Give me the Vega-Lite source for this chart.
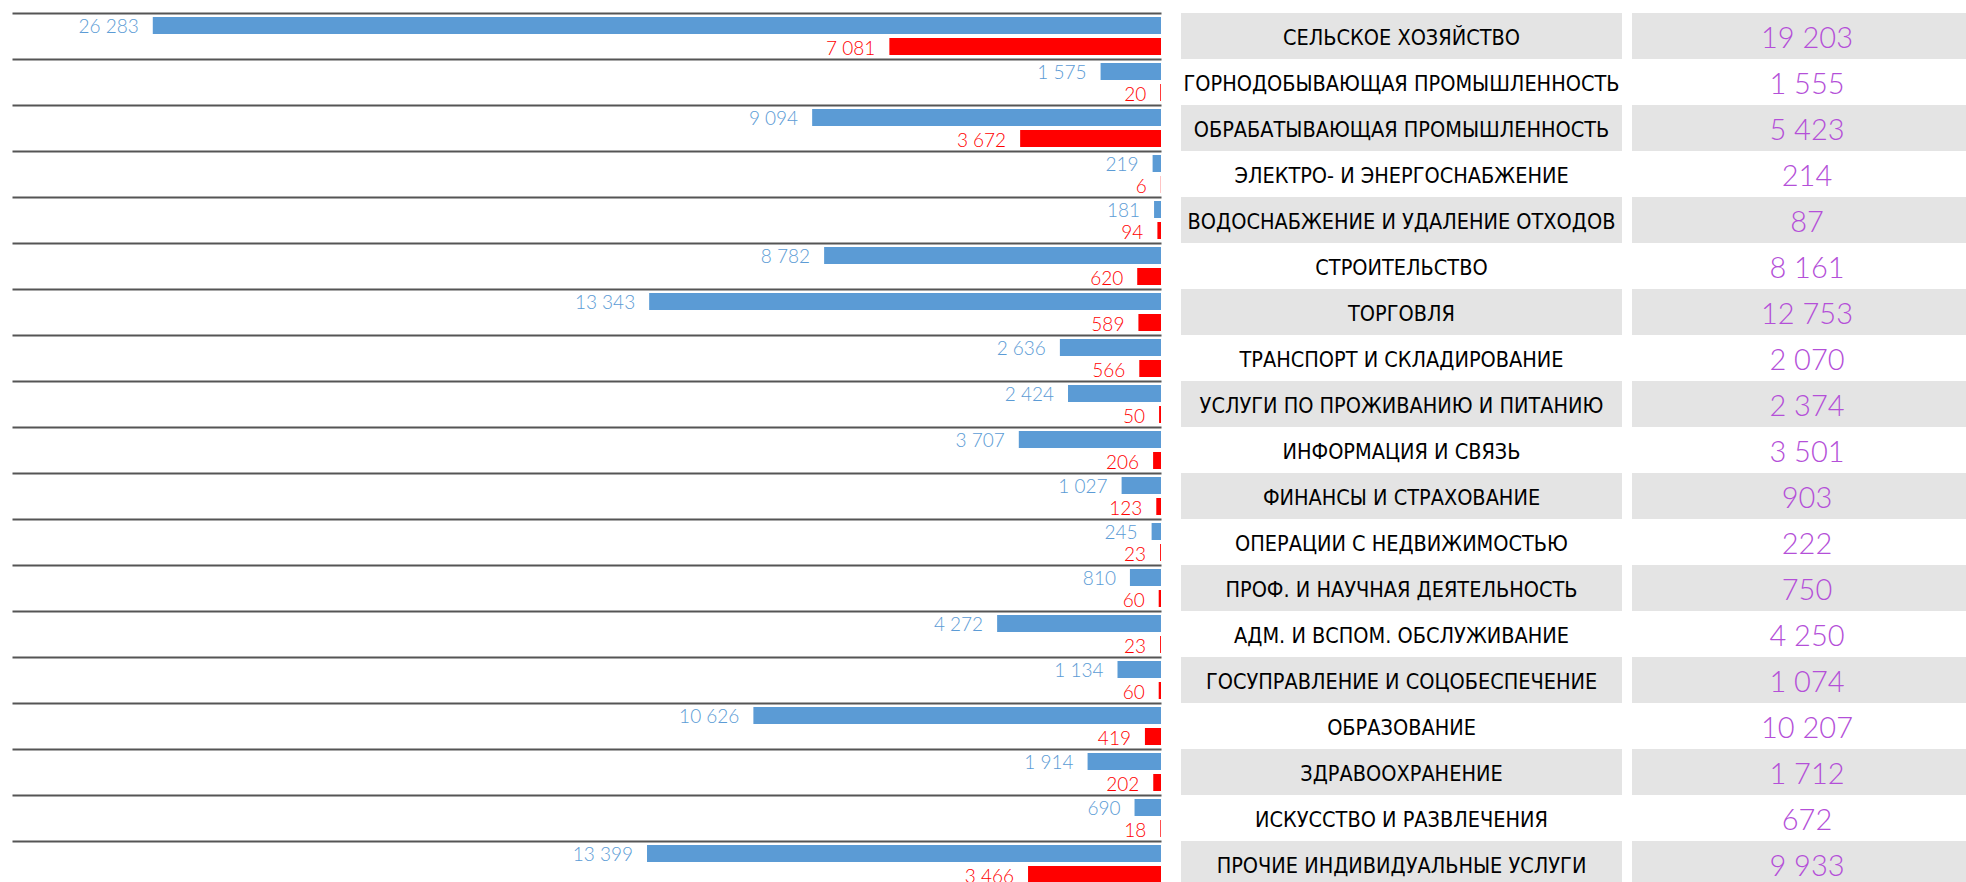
{
  "$schema": "https://vega.github.io/schema/vega-lite/v6.json",
  "padding": {"left": 12, "top": 13, "right": 0, "bottom": 0},
  "background": "white",
  "bounds": "flush",
  "spacing": 20,
  "config": {
    "view": {"stroke": null},
    "locale": {"number": {"decimal": ",", "thousands": " ", "grouping": [3], "currency": ["", ""]}}
  },
  "datasets": {
    "bars": [
      {"cat": "СЕЛЬСКОЕ ХОЗЯЙСТВО", "series": "blue", "value": 26283},
      {"cat": "СЕЛЬСКОЕ ХОЗЯЙСТВО", "series": "red", "value": 7081},
      {"cat": "ГОРНОДОБЫВАЮЩАЯ ПРОМЫШЛЕННОСТЬ", "series": "blue", "value": 1575},
      {"cat": "ГОРНОДОБЫВАЮЩАЯ ПРОМЫШЛЕННОСТЬ", "series": "red", "value": 20},
      {"cat": "ОБРАБАТЫВАЮЩАЯ ПРОМЫШЛЕННОСТЬ", "series": "blue", "value": 9094},
      {"cat": "ОБРАБАТЫВАЮЩАЯ ПРОМЫШЛЕННОСТЬ", "series": "red", "value": 3672},
      {"cat": "ЭЛЕКТРО- И ЭНЕРГОСНАБЖЕНИЕ", "series": "blue", "value": 219},
      {"cat": "ЭЛЕКТРО- И ЭНЕРГОСНАБЖЕНИЕ", "series": "red", "value": 6},
      {"cat": "ВОДОСНАБЖЕНИЕ И УДАЛЕНИЕ ОТХОДОВ", "series": "blue", "value": 181},
      {"cat": "ВОДОСНАБЖЕНИЕ И УДАЛЕНИЕ ОТХОДОВ", "series": "red", "value": 94},
      {"cat": "СТРОИТЕЛЬСТВО", "series": "blue", "value": 8782},
      {"cat": "СТРОИТЕЛЬСТВО", "series": "red", "value": 620},
      {"cat": "ТОРГОВЛЯ", "series": "blue", "value": 13343},
      {"cat": "ТОРГОВЛЯ", "series": "red", "value": 589},
      {"cat": "ТРАНСПОРТ И СКЛАДИРОВАНИЕ", "series": "blue", "value": 2636},
      {"cat": "ТРАНСПОРТ И СКЛАДИРОВАНИЕ", "series": "red", "value": 566},
      {"cat": "УСЛУГИ ПО ПРОЖИВАНИЮ И ПИТАНИЮ", "series": "blue", "value": 2424},
      {"cat": "УСЛУГИ ПО ПРОЖИВАНИЮ И ПИТАНИЮ", "series": "red", "value": 50},
      {"cat": "ИНФОРМАЦИЯ И СВЯЗЬ", "series": "blue", "value": 3707},
      {"cat": "ИНФОРМАЦИЯ И СВЯЗЬ", "series": "red", "value": 206},
      {"cat": "ФИНАНСЫ И СТРАХОВАНИЕ", "series": "blue", "value": 1027},
      {"cat": "ФИНАНСЫ И СТРАХОВАНИЕ", "series": "red", "value": 123},
      {"cat": "ОПЕРАЦИИ С НЕДВИЖИМОСТЬЮ", "series": "blue", "value": 245},
      {"cat": "ОПЕРАЦИИ С НЕДВИЖИМОСТЬЮ", "series": "red", "value": 23},
      {"cat": "ПРОФ. И НАУЧНАЯ ДЕЯТЕЛЬНОСТЬ", "series": "blue", "value": 810},
      {"cat": "ПРОФ. И НАУЧНАЯ ДЕЯТЕЛЬНОСТЬ", "series": "red", "value": 60},
      {"cat": "АДМ. И ВСПОМ. ОБСЛУЖИВАНИЕ", "series": "blue", "value": 4272},
      {"cat": "АДМ. И ВСПОМ. ОБСЛУЖИВАНИЕ", "series": "red", "value": 23},
      {"cat": "ГОСУПРАВЛЕНИЕ И СОЦОБЕСПЕЧЕНИЕ", "series": "blue", "value": 1134},
      {"cat": "ГОСУПРАВЛЕНИЕ И СОЦОБЕСПЕЧЕНИЕ", "series": "red", "value": 60},
      {"cat": "ОБРАЗОВАНИЕ", "series": "blue", "value": 10626},
      {"cat": "ОБРАЗОВАНИЕ", "series": "red", "value": 419},
      {"cat": "ЗДРАВООХРАНЕНИЕ", "series": "blue", "value": 1914},
      {"cat": "ЗДРАВООХРАНЕНИЕ", "series": "red", "value": 202},
      {"cat": "ИСКУССТВО И РАЗВЛЕЧЕНИЯ", "series": "blue", "value": 690},
      {"cat": "ИСКУССТВО И РАЗВЛЕЧЕНИЯ", "series": "red", "value": 18},
      {"cat": "ПРОЧИЕ ИНДИВИДУАЛЬНЫЕ УСЛУГИ", "series": "blue", "value": 13399},
      {"cat": "ПРОЧИЕ ИНДИВИДУАЛЬНЫЕ УСЛУГИ", "series": "red", "value": 3466}
    ],
    "table": [
      {"cat": "СЕЛЬСКОЕ ХОЗЯЙСТВО", "net": 19203},
      {"cat": "ГОРНОДОБЫВАЮЩАЯ ПРОМЫШЛЕННОСТЬ", "net": 1555},
      {"cat": "ОБРАБАТЫВАЮЩАЯ ПРОМЫШЛЕННОСТЬ", "net": 5423},
      {"cat": "ЭЛЕКТРО- И ЭНЕРГОСНАБЖЕНИЕ", "net": 214},
      {"cat": "ВОДОСНАБЖЕНИЕ И УДАЛЕНИЕ ОТХОДОВ", "net": 87},
      {"cat": "СТРОИТЕЛЬСТВО", "net": 8161},
      {"cat": "ТОРГОВЛЯ", "net": 12753},
      {"cat": "ТРАНСПОРТ И СКЛАДИРОВАНИЕ", "net": 2070},
      {"cat": "УСЛУГИ ПО ПРОЖИВАНИЮ И ПИТАНИЮ", "net": 2374},
      {"cat": "ИНФОРМАЦИЯ И СВЯЗЬ", "net": 3501},
      {"cat": "ФИНАНСЫ И СТРАХОВАНИЕ", "net": 903},
      {"cat": "ОПЕРАЦИИ С НЕДВИЖИМОСТЬЮ", "net": 222},
      {"cat": "ПРОФ. И НАУЧНАЯ ДЕЯТЕЛЬНОСТЬ", "net": 750},
      {"cat": "АДМ. И ВСПОМ. ОБСЛУЖИВАНИЕ", "net": 4250},
      {"cat": "ГОСУПРАВЛЕНИЕ И СОЦОБЕСПЕЧЕНИЕ", "net": 1074},
      {"cat": "ОБРАЗОВАНИЕ", "net": 10207},
      {"cat": "ЗДРАВООХРАНЕНИЕ", "net": 1712},
      {"cat": "ИСКУССТВО И РАЗВЛЕЧЕНИЯ", "net": 672},
      {"cat": "ПРОЧИЕ ИНДИВИДУАЛЬНЫЕ УСЛУГИ", "net": 9933}
    ]
  },
  "hconcat": [
    {
      "width": 1149,
      "height": 874,
      "data": {"name": "bars"},
      "encoding": {
        "y": {"field": "cat", "type": "nominal", "sort": null,
          "scale": {"paddingInner": 0, "paddingOuter": 0},
          "axis": {"grid": true, "bandPosition": 0, "labels": false, "ticks": false, "domain": false, "title": null, "gridColor": "#555555", "gridWidth": 2, "gridOpacity": 1}},
        "x": {"field": "value", "type": "quantitative", "scale": {"domain": [0, 29953], "reverse": true}, "axis": null},
        "yOffset": {"field": "series", "type": "nominal", "sort": ["blue", "red"], "scale": {"paddingInner": 0.19, "paddingOuter": 0.19}},
        "color": {"field": "series", "type": "nominal", "scale": {"domain": ["blue", "red"], "range": ["#5B9BD5", "#FF0000"]}, "legend": null}
      },
      "layer": [
        {"mark": {"type": "bar"}},
        {"mark": {"type": "text", "align": "right", "baseline": "middle", "dx": -14, "dy": 2, "font": "Lato", "fontSize": 19, "fontWeight": 300},
          "encoding": {"text": {"field": "value", "type": "quantitative", "format": ",d"}}}
      ]
    },
    {
      "spacing": 10,
      "bounds": "flush",
      "hconcat": [
        {
          "width": 441,
          "height": 874,
          "data": {"name": "table"},
          "transform": [{"window": [{"op": "row_number", "as": "idx"}]}],
          "encoding": {
            "y": {"field": "cat", "type": "nominal", "sort": null, "scale": {"paddingInner": 0, "paddingOuter": 0}, "axis": null}
          },
          "layer": [
            {"mark": {"type": "rect"},
              "encoding": {"color": {"condition": {"test": "datum.idx % 2 == 1", "value": "#E4E4E4"}, "value": "#FFFFFF"}}},
            {"mark": {"type": "text", "align": "center", "baseline": "middle", "dy": 3, "font": "DejaVu Sans Condensed, Liberation Sans, sans-serif", "fontSize": 21.5, "color": "#000000"},
              "encoding": {"text": {"field": "cat", "type": "nominal"}}}
          ]
        },
        {
          "width": 350,
          "height": 874,
          "data": {"name": "table"},
          "transform": [{"window": [{"op": "row_number", "as": "idx"}]}],
          "encoding": {
            "y": {"field": "cat", "type": "nominal", "sort": null, "scale": {"paddingInner": 0, "paddingOuter": 0}, "axis": null}
          },
          "layer": [
            {"mark": {"type": "rect"},
              "encoding": {"color": {"condition": {"test": "datum.idx % 2 == 1", "value": "#E4E4E4"}, "value": "#FFFFFF"}}},
            {"mark": {"type": "text", "align": "center", "baseline": "middle", "dy": 3, "font": "Lato", "fontSize": 29, "fontWeight": 300, "color": "#B44FD8"},
              "encoding": {"text": {"field": "net", "type": "quantitative", "format": ",d"}}}
          ]
        }
      ]
    }
  ]
}
